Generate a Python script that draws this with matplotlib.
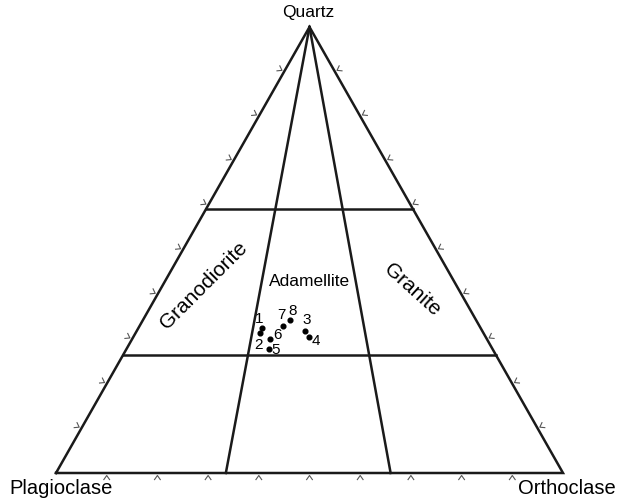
import numpy as np
import matplotlib.pyplot as plt

# modal analyses, % of Q + P + Or
samples = ['1', '2', '3', '4', '5', '6', '7', '8']
quartz = [32.4, 31.4, 31.8, 30.5, 27.8, 30.0, 33.0, 34.3]
orthoclase = [24.4, 24.5, 33.2, 34.6, 28.1, 27.3, 28.3, 29.0]

# field boundaries
quartz_limits = [26.5, 59.2]     # Q %
kspar_ratios = [33.5, 66.0]      # Or / (Or + P) %
tick_steps = list(range(10, 100, 10))

# triangle corners in pixels
X0, Y0, W, H = 56.0, 473.0, 507.0, 446.0


def tern(q, o):
    # Q, Or percentages -> cartesian (base 0..1, height 0..1)
    q = np.asarray(q, float) / 100
    o = np.asarray(o, float) / 100
    return o + q / 2, q


def px(x, y):
    return (x - X0) / W, (Y0 - y) / H


fig = plt.figure(figsize=(6.27, 4.99), dpi=100)
ax = fig.add_axes([0, 0, 1, 1])
ax.set_xlim(-X0 / W, (627 - X0) / W)
ax.set_ylim((Y0 - 499) / H, Y0 / H)
ax.axis('off')
plt.rcParams['font.family'] = ['Liberation Sans', 'DejaVu Sans']

lw = 1.8
col = '#1a1a1a'

# outline
ox, oy = tern([0, 0, 100, 0], [0, 100, 0, 0])
ax.plot(ox, oy, color=col, lw=lw, solid_joinstyle='miter')

# horizontal quartz boundaries
for q in quartz_limits:
    lx, ly = tern([q, q], [0, 100 - q])
    ax.plot(lx, ly, color=col, lw=lw)

# feldspar ratio lines from apex to base
for r in kspar_ratios:
    lx, ly = tern([100, 0], [0, r])
    ax.plot(lx, ly, color=col, lw=lw)

# chevron ticks outside each edge
edges = [
    (lambda t: tern(0, t), (0.0, 1.0)),            # base, outward = down
    (lambda t: tern(t, 0), (-0.869, -0.494)),      # left edge
    (lambda t: tern(t, 100 - t), (0.869, -0.494)), # right edge
]
gap, arm, ang = 2.5, 5.0, np.radians(35)
for pos, (nx, ny) in edges:
    for t in tick_steps:
        cx, cy = pos(t)
        # apex a few pixels outside the edge, arms spread outward (screen px, y down)
        axp = cx * W + X0 + gap * nx
        ayp = Y0 - cy * H + gap * ny
        xs, ys = [], []
        for s in (1, -1):
            c, sn = np.cos(s * ang), np.sin(s * ang)
            dx = nx * c - ny * sn
            dy = nx * sn + ny * c
            xs.append(axp + arm * dx)
            ys.append(ayp + arm * dy)
        xx = [xs[0], axp, xs[1]]
        yy = [ys[0], ayp, ys[1]]
        p = [px(a, b) for a, b in zip(xx, yy)]
        ax.plot([v[0] for v in p], [v[1] for v in p], color='#555555', lw=0.8)

# samples
sx, sy = tern(quartz, orthoclase)
ax.plot(sx, sy, 'o', color='black', ms=3.4, ls='none')
label_offsets = [(-3, -9), (-1, 12), (2, -11), (7, 4), (7, 1), (7, -4), (-2, -11), (3, -9)]
for name, x, y, (dx, dy) in zip(samples, sx, sy, label_offsets):
    ax.annotate(name, (x, y), xytext=(dx, -dy), textcoords='offset pixels',
                ha='center', va='center', fontsize=11)

# corner and field names
ax.text(*px(308, 13), 'Quartz', ha='center', va='center', fontsize=12.5)
ax.text(*px(61, 489), 'Plagioclase', ha='center', va='center', fontsize=14.5)
ax.text(*px(567, 488), 'Orthoclase', ha='center', va='center', fontsize=14.5)
ax.text(*px(204, 285), 'Granodiorite', ha='center', va='center', fontsize=15,
        rotation=45, rotation_mode='anchor')
ax.text(*px(412, 290), 'Granite', ha='center', va='center', fontsize=15,
        rotation=-42, rotation_mode='anchor')
ax.text(*px(310, 281), 'Adamellite', ha='center', va='center', fontsize=12.5,
        family=['Liberation Sans Narrow', 'Liberation Sans'])

fig.savefig('out.png', dpi=100)
